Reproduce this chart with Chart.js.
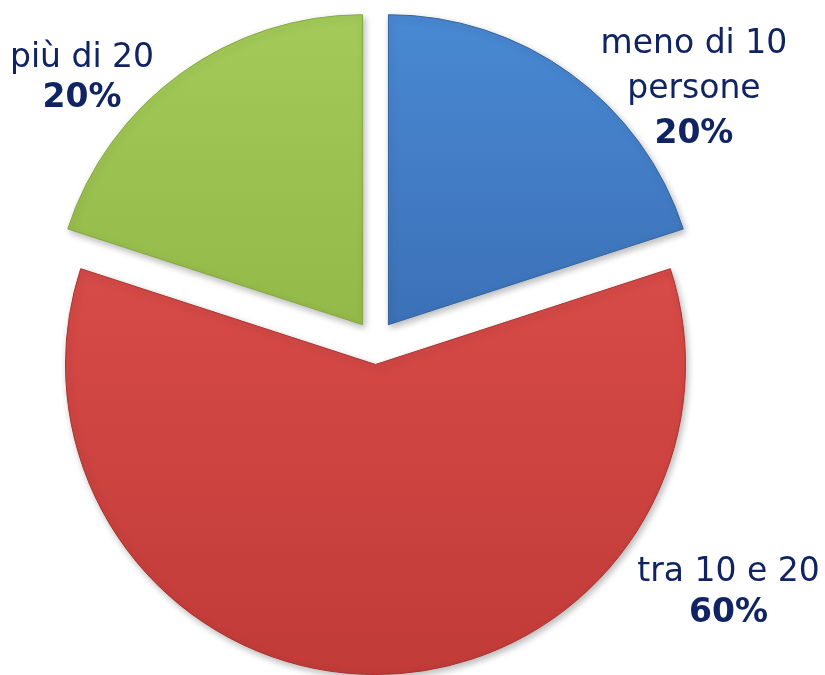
<!DOCTYPE html>
<html>
<head>
<meta charset="utf-8">
<script src="https://cdn.jsdelivr.net/npm/chart.js@4/dist/chart.umd.min.js"></script>
<style>
  html, body { margin: 0; padding: 0; background: #ffffff; }
  #wrap { width: 825px; height: 675px; }
</style>
</head>
<body>
<div id="wrap"><canvas id="c" width="825" height="675"></canvas></div>
<script>
// ---- data ----
const categories = ['meno di 10 persone', 'tra 10 e 20', 'più di 20'];
const labelLines = [['meno di 10', 'persone'], ['tra 10 e 20'], ['più di 20']];
const values = [20, 60, 20];

// ---- style ----
const topColors = ['#4a8ad5', '#d64a47', '#a4cc5a'];
const bottomColors = ['#3c72b8', '#c03a37', '#94ba49'];
const borderColors = ['#35659f', '#a83330', '#86a940'];
const gradStops = [[0.006, 0.474], [0.38, 1.0], [0.006, 0.474]];

const total = values.reduce((a, b) => a + b, 0);

function sliceFill(c) {
  const chart = c.chart;
  const area = chart.chartArea;
  const i = c.dataIndex;
  if (!area) return topColors[i];
  const g = chart.ctx.createLinearGradient(0, area.top, 0, area.bottom);
  g.addColorStop(gradStops[i][0], topColors[i]);
  g.addColorStop(gradStops[i][1], bottomColors[i]);
  return g;
}

// explode slices by translating each arc along its bisector, then let the arc element draw itself
const explodePlugin = {
  id: 'explode',
  beforeDatasetDraw(chart, args, opts) {
    const ctx = chart.ctx;
    const meta = args.meta;
    meta.data.forEach((arc) => {
      const mid = (arc.startAngle + arc.endAngle) / 2;
      ctx.save();
      ctx.shadowColor = 'rgba(0,0,0,0.28)';
      ctx.shadowBlur = 7;
      ctx.shadowOffsetX = 2;
      ctx.shadowOffsetY = 3;
      ctx.translate(Math.cos(mid) * opts.distance, Math.sin(mid) * opts.distance);
      arc.draw(ctx);
      ctx.restore();
    });
    return false;
  }
};

const labelPlugin = {
  id: 'sliceLabels',
  afterDatasetsDraw(chart, args, opts) {
    const ctx = chart.ctx;
    const meta = chart.getDatasetMeta(0);
    meta.data.forEach((arc, i) => {
      const a = (opts.angles[i] - 90) * Math.PI / 180;
      const d = arc.outerRadius * opts.distances[i];
      const cx = arc.x + Math.cos(a) * d;
      const cy = arc.y + Math.sin(a) * d;
      const lines = labelLines[i].slice();
      const pct = Math.round(values[i] / total * 100) + '%';
      const all = lines.concat([pct]);
      const n = all.length;
      const L = opts.lineHeights[i];
      ctx.save();
      ctx.fillStyle = opts.color;
      ctx.textAlign = 'center';
      ctx.textBaseline = 'alphabetic';
      all.forEach((t, k) => {
        const bold = k === n - 1;
        ctx.font = (bold ? 'bold ' : '') + opts.size + 'px "DejaVu Sans", Verdana, sans-serif';
        const y = cy + (k - (n - 1) / 2) * L + 0.36 * opts.size;
        ctx.fillText(t, cx, y);
      });
      ctx.restore();
    });
  }
};

new Chart(document.getElementById('c'), {
  type: 'pie',
  data: {
    labels: categories,
    datasets: [{
      data: values,
      backgroundColor: sliceFill,
      borderColor: borderColors,
      borderWidth: 1,
      offset: 0,
      hoverOffset: 0
    }]
  },
  options: {
    responsive: false,
    devicePixelRatio: 1,
    animation: false,
    radius: 310,
    layout: { padding: { left: 0, right: 74, top: 10, bottom: 0 } },
    plugins: {
      legend: { display: false },
      tooltip: { enabled: false },
      explode: { distance: 22 },
      sliceLabels: {
        angles: [51.2, 125, -47.7],
        distances: [1.318, 1.39, 1.28],
        lineHeights: [45, 41, 40],
        size: 33,
        color: '#102463'
      }
    }
  },
  plugins: [explodePlugin, labelPlugin]
});
</script>
</body>
</html>
